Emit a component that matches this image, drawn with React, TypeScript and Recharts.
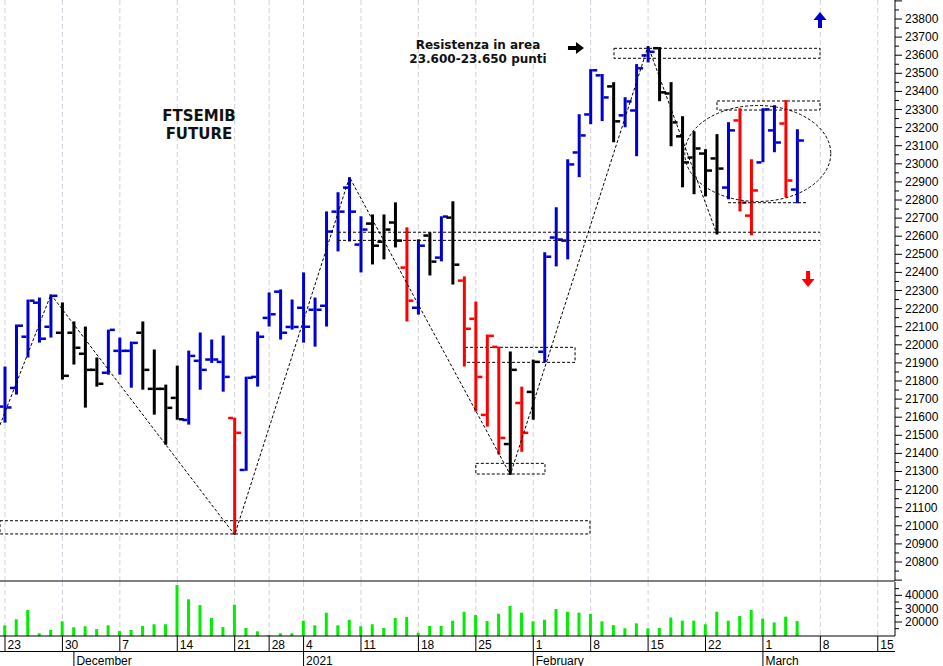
import React from "react";
import {
  Bar,
  CartesianGrid,
  ComposedChart,
  ReferenceArea,
  ReferenceDot,
  ReferenceLine,
  Scatter,
  XAxis,
  YAxis,
} from "recharts";

// daily bars, index 0 = 23 Nov 2020 ... index 69 = 4 Mar 2021
const opens = [
  21660, 21763, 22046, 22234, 22101, 22068, 22068, 21952, 21863, 21847,
  21968, 21968, 22068, 21758, 21758, 21708, 21586, 21913, 21920, 21907,
  21597, 21310, 21824, 22150, 22295, 22100, 22206, 22195, 22217, 22737,
  22870, 22555, 22671, 22571, 22677, 22428, 22206, 22605, 22483, 22704,
  22356, 22145, 21614, 21990, 21453, 21680, 21741, 21963, 22594, 22577,
  23064, 23274, 23490, 23429, 23269, 23296, 23600, 23640, 23390, 23153,
  23036, 23058, 23031, 22870, 23241, 22715, 23009, 23186, 23224, 22859,
];
const highs = [
  21880, 22112, 22250, 22261, 22278, 22234, 22129, 22101, 21930, 22084,
  22040, 22018, 22129, 21974, 21780, 21885, 21968, 22068, 22029, 22051,
  21597, 21824, 22073, 22289, 22306, 22250, 22400, 22261, 22737, 22843,
  22926, 22710, 22720, 22720, 22787, 22649, 22583, 22621, 22710, 22793,
  22378, 22239, 22057, 21990, 21963, 21769, 21918, 22511, 22760, 23025,
  23274, 23523, 23496, 23451, 23368, 23551, 23650, 23645, 23451, 23263,
  23180, 23081, 23164, 23230, 23307, 23025, 23307, 23324, 23352, 23191,
];
const lows = [
  21570, 21725, 21930, 22012, 22040, 21808, 21891, 21653, 21769, 21835,
  21835, 21763, 21752, 21614, 21448, 21586, 21559, 21752, 21900, 21741,
  20950, 21304, 21769, 22101, 22029, 22084, 22012, 21990, 22101, 22516,
  22571, 22400, 22444, 22472, 22538, 22129, 22167, 22383, 22461, 22333,
  21880, 21631, 21548, 21393, 21282, 21409, 21586, 21902, 22433, 22472,
  22926, 23219, 23236, 23119, 23202, 23042, 23560, 23346, 23097, 22870,
  22832, 22820, 22610, 22804, 22737, 22605, 23009, 23064, 22815, 22782,
];
const closes = [
  21655, 22107, 22245, 22035, 22272, 21830, 21985, 21863, 21786, 22084,
  21968, 22012, 21863, 21758, 21653, 21590, 21940, 21863, 21920, 21824,
  21515, 21819, 22046, 22170, 22068, 22100, 22101, 22195, 22627, 22737,
  22737, 22638, 22549, 22638, 22577, 22245, 22549, 22461, 22710, 22444,
  22090, 21824, 22051, 21487, 21863, 21515, 21907, 22488, 22583, 22998,
  23158, 23518, 23368, 23236, 23346, 23529, 23620, 23396, 23230, 23009,
  23086, 22964, 22975, 23186, 22787, 22854, 23302, 23119, 22909, 23130,
];
// b = blue, r = red, k = black
const barColors = "bbbbbkkkkbbbkkkkbbbbrbbbbbbbbbbbkkkrbkbkrrrrkrkbbbbbbkbbbkkkkkkbrrbbrb".split("");
const volumes = [
  17500, 22000, 29000, 11500, 14000, 20500, 16000, 16800, 14700, 17500,
  13200, 14000, 17000, 18300, 18300, 47700, 37000, 32700, 23000, 16200,
  33000, 15500, 13000, 10200, 11500, 11500, 21000, 17500, 27000, 17500,
  21700, 16800, 18300, 15500, 23000, 23700, 12000, 17000, 17000, 21000,
  27700, 25200, 20700, 26200, 32000, 27000, 20500, 21700, 29700, 27700,
  27000, 26000, 20500, 17700, 15300, 19000, 15300, 15500, 23300, 21000,
  21000, 18300, 27700, 21000, 24500, 29000, 22500, 19700, 24000, 20700,
];

const weekTicks = [0, 5, 10, 15, 20, 23, 26, 31, 36, 41, 46, 51, 56, 61, 66, 71, 76];
const weekLabels = ["23", "30", "7", "14", "21", "28", "4", "11", "18", "25", "1", "8", "15", "22", "1", "8", "15"];
const monthTicks = [6, 26, 46, 66];
const monthLabels = ["December", "2021", "February", "March"];
const volTicks = [15000, 20000, 25000, 30000, 35000, 40000, 45000];

// swing line (index, price)
const zigIdx = [-0.435, 4, 20, 30, 44, 56, 62];
const zigVal = [21557, 22278, 20950, 22926, 21282, 23650, 22610];

// dashed boxes: [x1, x2, y1, y2]
const boxes = [
  [-0.435, 50.94, 20955, 21028],
  [40.06, 49.64, 21903, 21986],
  [41.0, 47.02, 21286, 21345],
  [53.03, 70.97, 23583, 23638],
  [62.0, 70.97, 23297, 23347],
];
// dashed horizontal segments: [x1, x2, y]
const segments = [
  [29.0, 70.97, 22622],
  [29.0, 70.97, 22577],
  [62.96, 69.84, 22785],
];

const titleLines = ["FTSEMIB", "FUTURE"];
const noteLines = ["Resistenza in area", "23.600-23.650 punti"];

const X_DOMAIN: [number, number] = [-0.435, 77.5];
const PRICE_DOMAIN: [number, number] = [20695, 23905];
const VOL_DOMAIN: [number, number] = [9500, 50000];

const priceTicks: number[] = [];
for (let v = 20700; v <= 23900; v += 50) priceTicks.push(v);

const COLORS: Record<string, string> = { b: "#0000d0", r: "#ff0000", k: "#000000" };
const FONT = "'Liberation Sans', Arial, sans-serif";
const BOLD = "'DejaVu Sans', Verdana, sans-serif";

const ohlc = opens.map((o, i) => ({
  i,
  open: o,
  high: highs[i],
  low: lows[i],
  close: closes[i],
  range: [lows[i], highs[i]],
  col: barColors[i],
}));
const volData = volumes.map((v, i) => ({ i, vol: v }));
const zigData = zigIdx.map((i, k) => ({ i, v: zigVal[k] }));
const allXTicks = Array.from(new Set([...weekTicks, ...monthTicks])).sort((a, b) => a - b);

const OhlcShape = (props: any) => {
  const { x, y, width, height, payload } = props;
  if (x == null || y == null) return <g />;
  const cx = x + width / 2;
  const span = payload.high - payload.low || 1;
  const yO = y + ((payload.high - payload.open) / span) * height;
  const yC = y + ((payload.high - payload.close) / span) * height;
  const col = COLORS[payload.col];
  return (
    <g>
      <rect x={cx - 1.5} y={y} width={3} height={Math.max(height, 1)} fill={col} />
      <rect x={cx - 6.5} y={yO - 1} width={5} height={2.5} fill={col} />
      <rect x={cx + 1.5} y={yC - 1} width={5} height={2.5} fill={col} />
    </g>
  );
};

const PriceTick = (props: any) => {
  const { x, y, payload } = props;
  const v = payload.value;
  const major = v % 100 === 0;
  return (
    <g>
      <line x1={x} x2={x + (major ? 7 : 4)} y1={y} y2={y} stroke="#000" />
      {major && v >= 20800 && v <= 23800 && (
        <text x={x + 10} y={y + 4} fontSize={12} fontFamily={FONT} fill="#000">
          {v}
        </text>
      )}
    </g>
  );
};

const VolTick = (props: any) => {
  const { x, y, payload } = props;
  const v = payload.value;
  const major = v % 10000 === 0;
  return (
    <g>
      <line x1={x} x2={x + (major ? 7 : 4)} y1={y} y2={y} stroke="#000" />
      {major && (
        <text x={x + 10} y={y + 4} fontSize={12} fontFamily={FONT} fill="#000">
          {v}
        </text>
      )}
    </g>
  );
};

const DateTick = (props: any) => {
  const { x, y, payload } = props;
  const w = weekTicks.indexOf(payload.value);
  const m = monthTicks.indexOf(payload.value);
  return (
    <g>
      {w >= 0 && (
        <g>
          <line x1={x} x2={x} y1={y} y2={y + 15} stroke="#000" />
          <text x={x + 2.5} y={y + 13} fontSize={12} fontFamily={FONT} fill="#000">
            {weekLabels[w]}
          </text>
        </g>
      )}
      {m >= 0 && (
        <g>
          <line x1={x} x2={x} y1={y + 15} y2={y + 30} stroke="#000" />
          <text x={x + 2.5} y={y + 28.5} fontSize={12} fontFamily={FONT} fill="#000">
            {monthLabels[m]}
          </text>
        </g>
      )}
    </g>
  );
};

const TitleShape = (p: any) => (
  <text textAnchor="middle" fontFamily={BOLD} fontWeight="bold" fontSize={15} fill="#111">
    <tspan x={p.cx} y={p.cy - 9}>{titleLines[0]}</tspan>
    <tspan x={p.cx} y={p.cy + 9}>{titleLines[1]}</tspan>
  </text>
);

const NoteShape = (p: any) => (
  <text textAnchor="middle" fontFamily={BOLD} fontWeight="bold" fontSize={12} fill="#111">
    <tspan x={p.cx} y={p.cy - 7}>{noteLines[0]}</tspan>
    <tspan x={p.cx} y={p.cy + 7.5}>{noteLines[1]}</tspan>
  </text>
);

const RightArrow = (p: any) => {
  const { cx, cy } = p;
  return (
    <polygon
      points={`${cx - 8},${cy - 2} ${cx},${cy - 2} ${cx},${cy - 6} ${cx + 8},${cy} ${cx},${cy + 6} ${cx},${cy + 2} ${cx - 8},${cy + 2}`}
      fill="#000"
    />
  );
};

const UpArrow = (p: any) => {
  const { cx, cy } = p;
  return (
    <polygon
      points={`${cx - 2},${cy + 8} ${cx - 2},${cy} ${cx - 6.5},${cy} ${cx},${cy - 8} ${cx + 6.5},${cy} ${cx + 2},${cy} ${cx + 2},${cy + 8}`}
      fill="#0000d0"
    />
  );
};

const DownArrow = (p: any) => {
  const { cx, cy } = p;
  return (
    <polygon
      points={`${cx - 2},${cy - 8} ${cx - 2},${cy} ${cx - 6.5},${cy} ${cx},${cy + 8} ${cx + 6.5},${cy} ${cx + 2},${cy} ${cx + 2},${cy - 8}`}
      fill="#ff0000"
    />
  );
};

const EllipseShape = (p: any) => (
  <ellipse cx={p.cx} cy={p.cy} rx={73} ry={48} fill="none" stroke="#000" strokeDasharray="3 2" />
);

export default function App() {
  return (
    <div style={{ position: "absolute", left: 0, top: 0, width: 943, height: 666, background: "#fff" }}>
      <div style={{ position: "absolute", left: 0, top: 0 }}>
        <ComposedChart width={943} height={582} data={ohlc} margin={{ top: 0, right: 0, left: 0, bottom: 1 }}>
          <CartesianGrid horizontal={false} verticalValues={weekTicks} stroke="#d2d2dc" strokeDasharray="5 3" />
          <XAxis type="number" dataKey="i" domain={X_DOMAIN} allowDataOverflow hide ticks={weekTicks} />
          <YAxis
            type="number"
            orientation="right"
            width={48}
            domain={PRICE_DOMAIN}
            allowDataOverflow
            ticks={priceTicks}
            interval={0}
            tickSize={0}
            tickMargin={0}
            tickLine={false}
            tick={<PriceTick />}
            axisLine={{ stroke: "#000" }}
          />
          {boxes.map((b, k) => (
            <ReferenceArea
              key={"box" + k}
              x1={b[0]}
              x2={b[1]}
              y1={b[2]}
              y2={b[3]}
              fill="none"
              fillOpacity={0}
              stroke="#000"
              strokeDasharray="3 2"
            />
          ))}
          {segments.map((s, k) => (
            <ReferenceLine
              key={"seg" + k}
              segment={[
                { x: s[0], y: s[2] },
                { x: s[1], y: s[2] },
              ]}
              stroke="#000"
              strokeDasharray="3 2"
            />
          ))}
          <Scatter
            data={zigData}
            dataKey="v"
            line={{ stroke: "#000", strokeWidth: 1, strokeDasharray: "3 2" }}
            shape={() => <g />}
            isAnimationActive={false}
          />
          <Bar dataKey="range" barSize={3} shape={OhlcShape} isAnimationActive={false} />
          <ReferenceDot x={65.55} y={23057} r={1} shape={EllipseShape} />
          <ReferenceDot x={16.89} y={23187} r={1} shape={TitleShape} />
          <ReferenceDot x={41.19} y={23596} r={1} shape={NoteShape} />
          <ReferenceDot x={49.72} y={23640} r={1} shape={RightArrow} />
          <ReferenceDot x={70.97} y={23794} r={1} shape={UpArrow} />
          <ReferenceDot x={69.93} y={22363} r={1} shape={DownArrow} />
          <ReferenceLine y={PRICE_DOMAIN[0]} stroke="#000" />
        </ComposedChart>
      </div>
      <div style={{ position: "absolute", left: 0, top: 582 }}>
        <ComposedChart width={943} height={84} data={volData} margin={{ top: 0, right: 0, left: 0, bottom: 0 }}>
          <CartesianGrid horizontal={false} verticalValues={weekTicks} stroke="#d2d2dc" strokeDasharray="5 3" />
          <XAxis
            type="number"
            dataKey="i"
            domain={X_DOMAIN}
            allowDataOverflow
            ticks={allXTicks}
            interval={0}
            height={30}
            tickSize={0}
            tickMargin={0}
            tickLine={false}
            tick={<DateTick />}
            axisLine={{ stroke: "#000" }}
          />
          <YAxis
            type="number"
            orientation="right"
            width={48}
            domain={VOL_DOMAIN}
            allowDataOverflow
            ticks={volTicks}
            interval={0}
            tickSize={0}
            tickMargin={0}
            tickLine={false}
            tick={<VolTick />}
            axisLine={{ stroke: "#000" }}
          />
          <Bar dataKey="vol" barSize={3} fill="#00ee00" isAnimationActive={false} />
        </ComposedChart>
      </div>
      <div style={{ position: "absolute", left: 0, top: 651, width: 895, height: 1, background: "#000" }} />
    </div>
  );
}
